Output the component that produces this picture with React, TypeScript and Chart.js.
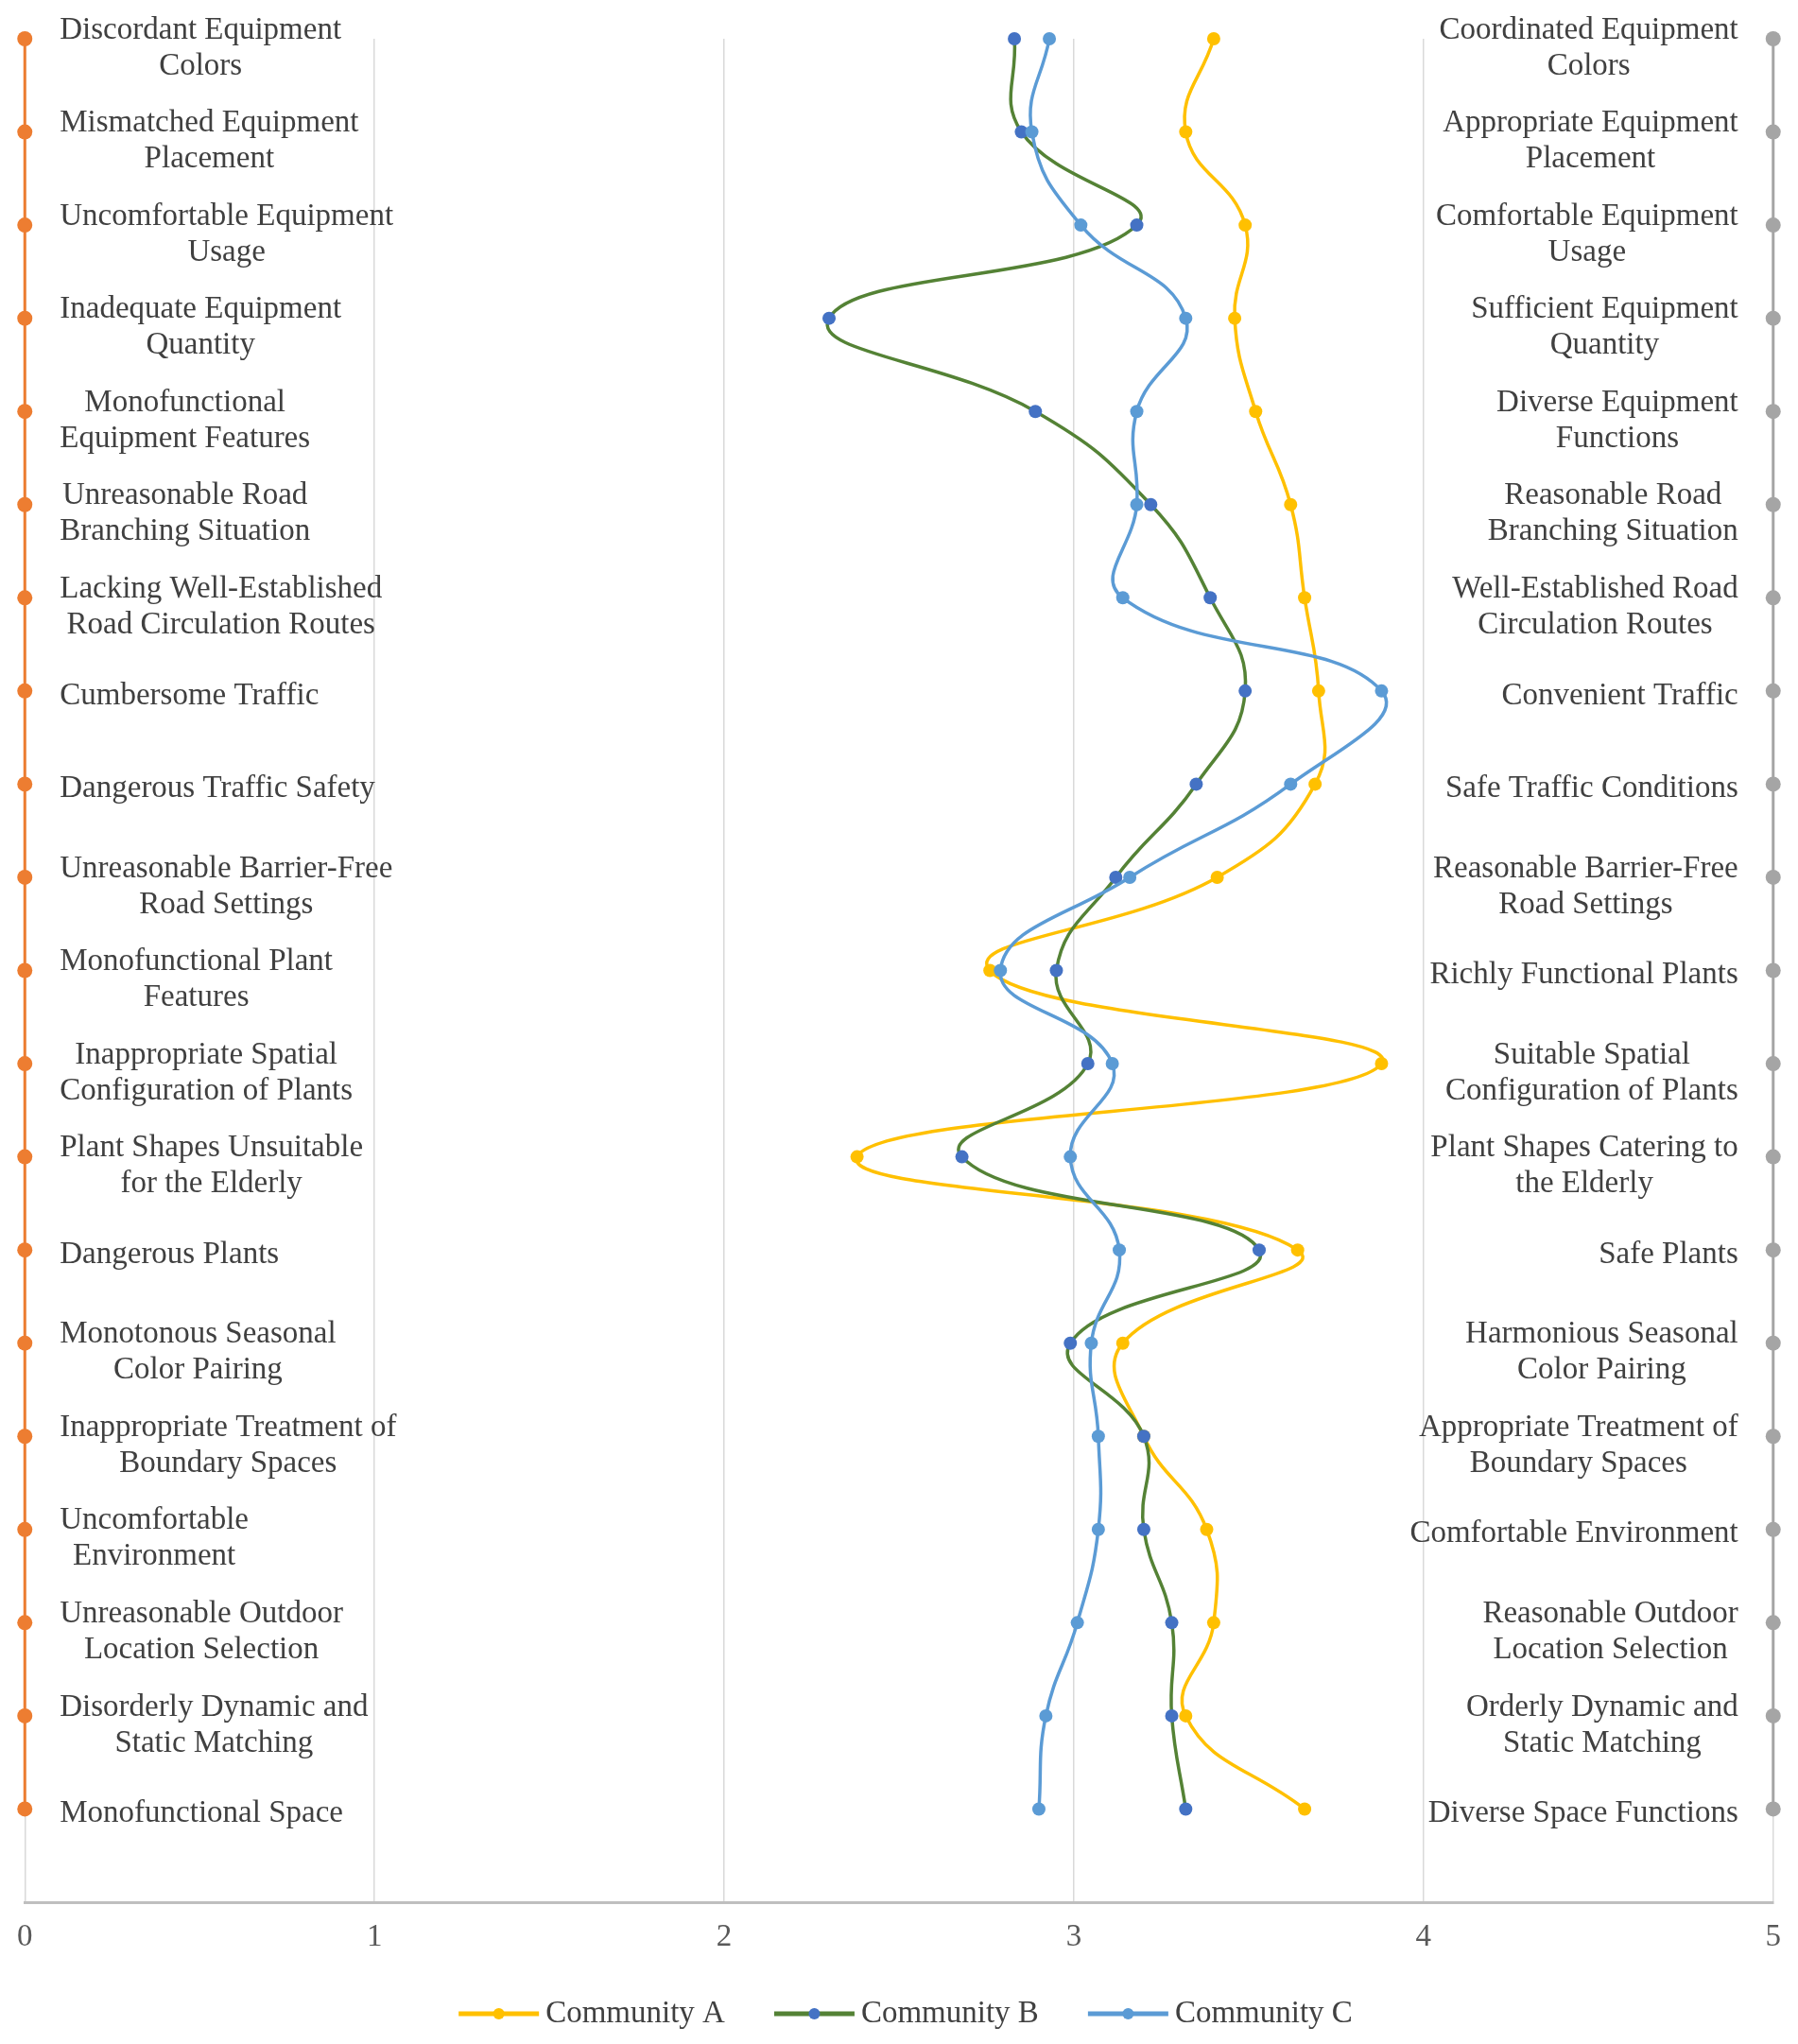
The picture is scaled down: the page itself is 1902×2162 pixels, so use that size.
import React, { useEffect, useRef } from 'react';
import { Chart, registerables } from 'chart.js';

Chart.register(...registerables);

// ---------- data ----------
const leftLabels: string[][] = [
  ['Discordant Equipment', 'Colors'],
  ['Mismatched Equipment', 'Placement'],
  ['Uncomfortable Equipment', 'Usage'],
  ['Inadequate Equipment', 'Quantity'],
  ['Monofunctional', 'Equipment Features'],
  ['Unreasonable Road', 'Branching Situation'],
  ['Lacking Well-Established', 'Road Circulation Routes'],
  ['Cumbersome Traffic'],
  ['Dangerous Traffic Safety'],
  ['Unreasonable Barrier-Free', 'Road Settings'],
  ['Monofunctional Plant', 'Features'],
  ['Inappropriate Spatial', 'Configuration of Plants'],
  ['Plant Shapes Unsuitable', 'for the Elderly'],
  ['Dangerous Plants'],
  ['Monotonous Seasonal', 'Color Pairing'],
  ['Inappropriate Treatment of', 'Boundary Spaces'],
  ['Uncomfortable', 'Environment'],
  ['Unreasonable Outdoor', 'Location Selection'],
  ['Disorderly Dynamic and', 'Static Matching'],
  ['Monofunctional Space'],
];

const rightLabels: string[][] = [
  ['Coordinated Equipment', 'Colors'],
  ['Appropriate Equipment', 'Placement'],
  ['Comfortable Equipment', 'Usage'],
  ['Sufficient Equipment', 'Quantity'],
  ['Diverse Equipment', 'Functions'],
  ['Reasonable Road', 'Branching Situation'],
  ['Well-Established Road', 'Circulation Routes'],
  ['Convenient Traffic'],
  ['Safe Traffic Conditions'],
  ['Reasonable Barrier-Free', 'Road Settings'],
  ['Richly Functional Plants'],
  ['Suitable Spatial', 'Configuration of Plants'],
  ['Plant Shapes Catering to', 'the Elderly'],
  ['Safe Plants'],
  ['Harmonious Seasonal', 'Color Pairing'],
  ['Appropriate Treatment of', 'Boundary Spaces'],
  ['Comfortable Environment'],
  ['Reasonable Outdoor', 'Location Selection'],
  ['Orderly Dynamic and', 'Static Matching'],
  ['Diverse Space Functions'],
];

const communityA = [3.40, 3.32, 3.49, 3.46, 3.52, 3.62, 3.66, 3.70, 3.69, 3.41, 2.76, 3.88, 2.38, 3.64, 3.14, 3.20, 3.38, 3.40, 3.32, 3.66];
const communityB = [2.83, 2.85, 3.18, 2.30, 2.89, 3.22, 3.39, 3.49, 3.35, 3.12, 2.95, 3.04, 2.68, 3.53, 2.99, 3.20, 3.20, 3.28, 3.28, 3.32];
const communityC = [2.93, 2.88, 3.02, 3.32, 3.18, 3.18, 3.14, 3.88, 3.62, 3.16, 2.79, 3.11, 2.99, 3.13, 3.05, 3.07, 3.07, 3.01, 2.92, 2.90];

const seriesNames = ['Community A', 'Community B', 'Community C'];
const xTickValues = [0, 1, 2, 3, 4, 5];
const leftAxisValue = 0;
const rightAxisValue = 5;

// ---------- styling ----------
const FONT = '"Liberation Serif", "Times New Roman", serif';
const FONT_SIZE = 33;
const TEXT_COLOR = '#404040';
const colA = '#FFC000';
const colBLine = '#548235';
const colBPoint = '#4472C4';
const colC = '#5B9BD5';
const colLeft = '#ED7D31';
const colRight = '#A5A5A5';

const n = leftLabels.length;
const position = (i: number) => n - i;

const toPoints = (vals: number[]) => vals.map((v, i) => ({ x: v, y: position(i) }));
const axisPoints = (v: number) => leftLabels.map((_, i) => ({ x: v, y: position(i) }));

const sideLabelPlugin = {
  id: 'sideLabels',
  afterDatasetsDraw(chart: any) {
    const ctx = chart.ctx as CanvasRenderingContext2D;
    const xs = chart.scales.x;
    const ys = chart.scales.y;
    ctx.save();
    ctx.font = `${FONT_SIZE}px ${FONT}`;
    ctx.fillStyle = TEXT_COLOR;
    ctx.textAlign = 'center';
    ctx.textBaseline = 'middle';
    const lh = 38;
    const gap = 37;
    const draw = (lines: string[], ax: number, side: 'left' | 'right', cy: number) => {
      const w = Math.max(...lines.map((l) => ctx.measureText(l).width));
      const cx = side === 'left' ? ax + gap + w / 2 : ax - gap - w / 2;
      const off = lines.length > 1 ? 10 : 5;
      lines.forEach((l, k) => {
        ctx.fillText(l, cx, cy + off + (k - (lines.length - 1) / 2) * lh);
      });
    };
    leftLabels.forEach((lines, i) =>
      draw(lines, xs.getPixelForValue(leftAxisValue), 'left', ys.getPixelForValue(position(i)))
    );
    rightLabels.forEach((lines, i) =>
      draw(lines, xs.getPixelForValue(rightAxisValue), 'right', ys.getPixelForValue(position(i)))
    );
    ctx.restore();
  },
};

const legendPlugin = {
  id: 'customLegend',
  afterDraw(chart: any) {
    const ctx = chart.ctx as CanvasRenderingContext2D;
    const area = chart.chartArea;
    const items = [
      { text: seriesNames[0], line: colA, point: colA },
      { text: seriesNames[1], line: colBLine, point: colBPoint },
      { text: seriesNames[2], line: colC, point: colC },
    ];
    ctx.save();
    ctx.font = `${FONT_SIZE}px ${FONT}`;
    const lineW = 85;
    const textGap = 7;
    const itemGap = 52;
    const widths = items.map((it) => lineW + textGap + ctx.measureText(it.text).width);
    const total = widths.reduce((a, b) => a + b, 0) + itemGap * (items.length - 1);
    let x = (area.left + area.right) / 2 - total / 2 + 7;
    const y = area.bottom + 118;
    items.forEach((it, k) => {
      ctx.strokeStyle = it.line;
      ctx.lineWidth = 5;
      ctx.beginPath();
      ctx.moveTo(x, y);
      ctx.lineTo(x + lineW, y);
      ctx.stroke();
      ctx.fillStyle = it.point;
      ctx.beginPath();
      ctx.arc(x + lineW / 2, y, 6, 0, Math.PI * 2);
      ctx.fill();
      ctx.fillStyle = TEXT_COLOR;
      ctx.textAlign = 'left';
      ctx.textBaseline = 'middle';
      ctx.fillText(it.text, x + lineW + textGap, y);
      x += widths[k] + itemGap;
    });
    ctx.restore();
  },
};

export default function App() {
  const ref = useRef<HTMLCanvasElement | null>(null);

  useEffect(() => {
    document.body.style.margin = '0';
    if (!ref.current) return;
    const seriesCommon = {
      showLine: true,
      borderWidth: 3.5,
      pointRadius: 7,
      pointHoverRadius: 7,
      tension: 0.45,
      pointBorderWidth: 0,
      clip: false,
    };
    const chart = new Chart(ref.current, {
      type: 'scatter',
      data: {
        datasets: [
          {
            label: 'left',
            data: axisPoints(leftAxisValue),
            showLine: true,
            borderColor: colLeft,
            backgroundColor: colLeft,
            pointBackgroundColor: colLeft,
            borderWidth: 3,
            pointRadius: 8,
            pointBorderWidth: 0,
            tension: 0,
            clip: false,
            order: 5,
          },
          {
            label: 'right',
            data: axisPoints(rightAxisValue),
            showLine: true,
            borderColor: colRight,
            backgroundColor: colRight,
            pointBackgroundColor: colRight,
            borderWidth: 3,
            pointRadius: 8,
            pointBorderWidth: 0,
            tension: 0,
            clip: false,
            order: 4,
          },
          {
            label: seriesNames[0],
            data: toPoints(communityA),
            borderColor: colA,
            backgroundColor: colA,
            pointBackgroundColor: colA,
            order: 3,
            ...seriesCommon,
          },
          {
            label: seriesNames[1],
            data: toPoints(communityB),
            borderColor: colBLine,
            backgroundColor: colBPoint,
            pointBackgroundColor: colBPoint,
            order: 2,
            ...seriesCommon,
          },
          {
            label: seriesNames[2],
            data: toPoints(communityC),
            borderColor: colC,
            backgroundColor: colC,
            pointBackgroundColor: colC,
            order: 1,
            ...seriesCommon,
          },
        ],
      },
      options: {
        responsive: false,
        animation: false,
        layout: { padding: { left: 25, right: 24, top: 41, bottom: 0 } },
        scales: {
          x: {
            type: 'linear',
            min: xTickValues[0],
            max: xTickValues[xTickValues.length - 1],
            afterBuildTicks: (scale: any) => {
              scale.ticks = xTickValues.map((v) => ({ value: v }));
            },
            afterFit: (scale: any) => {
              scale.height = 150;
            },
            grid: { color: '#D9D9D9', lineWidth: 1.5, drawTicks: false },
            border: { display: true, color: '#BFBFBF', width: 3 },
            ticks: {
              padding: 18,
              color: '#595959',
              font: { family: FONT, size: FONT_SIZE },
            },
          },
          y: {
            type: 'linear',
            display: false,
            min: 0,
            max: n,
          },
        },
        plugins: {
          legend: { display: false },
          tooltip: { enabled: false },
        },
      },
      plugins: [sideLabelPlugin, legendPlugin],
    } as any);
    return () => chart.destroy();
  }, []);

  return (
    <div style={{ width: 1902, height: 2162, background: '#fff' }}>
      <canvas ref={ref} width={1902} height={2162} style={{ display: 'block' }} />
    </div>
  );
}
